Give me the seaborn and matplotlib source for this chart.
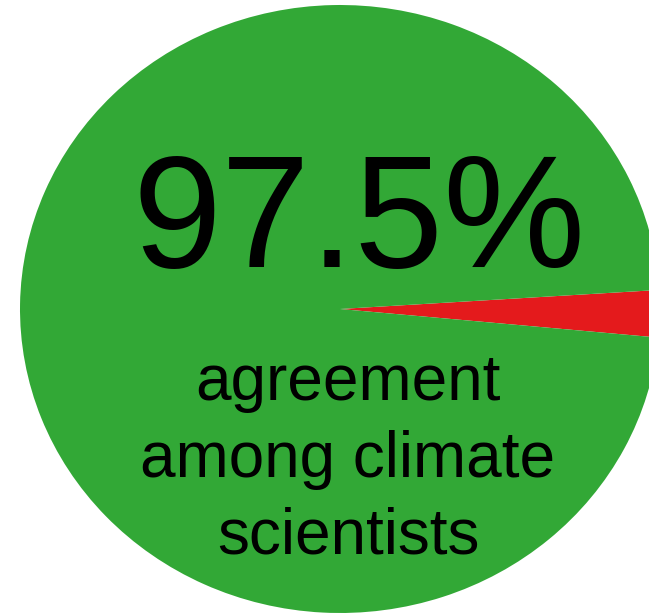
import matplotlib
matplotlib.use("Agg")
import matplotlib.pyplot as plt
import seaborn as sns

labels = ["disagree", "agree"]
values = [2.5, 97.5]
colors = ["#e41a1c", "#32a836"]
headline = "97.5%"
caption = ["agreement", "among climate", "scientists"]

sns.set_style("white")
plt.rcParams["font.family"] = ["Liberation Sans", "DejaVu Sans"]

W, H = 649, 614
fig = plt.figure(figsize=(W / 100, H / 100), dpi=100)
ax = fig.add_axes([0, 0, 1, 1])
ax.pie(values, colors=colors, startangle=-5.4, counterclock=True,
       wedgeprops=dict(linewidth=0, antialiased=True))
# center at (340, 309) px, rx=320, ry=304
cx, cy, rx, ry = 340, 309, 320, 304
ax.set_xlim(-cx / rx, (W - cx) / rx)
ax.set_ylim((cy - H) / ry, cy / ry)
ax.set_aspect("auto")
ax.axis("off")

def px(x, y):
    return x / W, 1 - y / H

fig.text(*px(359, 267), headline, fontsize=115, ha="center", va="baseline", color="black")
for txt, base in zip(caption, [400, 477, 553]):
    fig.text(*px(348, base), txt, fontsize=46, ha="center", va="baseline", color="black")

fig.savefig("out.png", dpi=100)
